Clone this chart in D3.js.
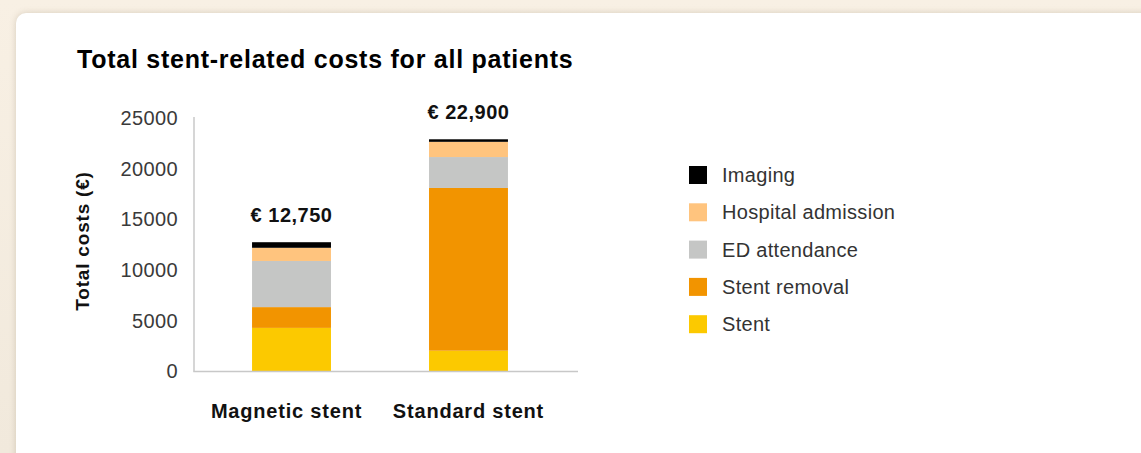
<!DOCTYPE html>
<html>
<head>
<meta charset="utf-8">
<script src="https://cdn.jsdelivr.net/npm/d3@7"></script>
<style>
  html, body { margin: 0; padding: 0; }
  body {
    width: 1141px; height: 453px; overflow: hidden;
    background: linear-gradient(#f8f0e4, #f1e9dc);
    font-family: "Liberation Sans", Arial, Helvetica, sans-serif;
  }
  #card {
    position: absolute; left: 16px; top: 13px; width: 1160px; height: 470px;
    background: #fff; border-radius: 10px;
    box-shadow: 0 0 6px rgba(120, 100, 70, 0.25);
  }
  #chart { position: absolute; left: 0; top: 0; }
</style>
</head>
<body>
<div id="card"></div>
<div id="chart"></div>
<script>
// ---- Data -------------------------------------------------------------------
const categories = ["Magnetic stent", "Standard stent"];
const seriesNames = ["Stent", "Stent removal", "ED attendance", "Hospital admission", "Imaging"];
const stent = [4300, 2050];
const stentRemoval = [2050, 16050];
const edAttendance = [4550, 3050];
const hospitalAdmission = [1300, 1500];
const imaging = [550, 250];
const totalLabels = ["€ 12,750", "€ 22,900"];
const yTicks = [0, 5000, 10000, 15000, 20000, 25000];
const legendOrder = ["Imaging", "Hospital admission", "ED attendance", "Stent removal", "Stent"];

const colors = {
  "Stent": "#fcc900",
  "Stent removal": "#f29400",
  "ED attendance": "#c5c6c5",
  "Hospital admission": "#ffc47e",
  "Imaging": "#000000"
};

// ---- Build table for stack ----------------------------------------------------
const seriesValues = [stent, stentRemoval, edAttendance, hospitalAdmission, imaging];
const rows = categories.map((c, i) => {
  const r = { category: c, label: totalLabels[i] };
  seriesNames.forEach((s, k) => { r[s] = seriesValues[k][i]; });
  return r;
});
const stacked = d3.stack().keys(seriesNames)(rows);

// ---- Draw ---------------------------------------------------------------------
const width = 1141, height = 453;
const FONT = '"Liberation Sans", Arial, Helvetica, sans-serif';
const svg = d3.select("#chart").append("svg")
  .attr("width", width).attr("height", height)
  .style("font-family", FONT);

// Title
svg.append("text")
  .attr("x", 77).attr("y", 68)
  .attr("font-size", 25).attr("font-weight", "bold").attr("fill", "#000")
  .attr("letter-spacing", 0.75)
  .text("Total stent-related costs for all patients");

const x = d3.scaleBand().domain(categories).range([194, 566])
  .paddingInner(0.554).paddingOuter(0.328);
const y = d3.scaleLinear().domain([0, 25000]).range([371.5, 118]);

// Bars
svg.append("g").selectAll("g")
  .data(stacked)
  .join("g")
  .attr("fill", d => colors[d.key])
  .selectAll("rect")
  .data(d => d)
  .join("rect")
  .attr("x", d => x(d.data.category))
  .attr("width", x.bandwidth())
  .attr("y", d => y(d[1]))
  .attr("height", d => y(d[0]) - y(d[1]));

// Total labels
svg.append("g").selectAll("text")
  .data(rows)
  .join("text")
  .attr("x", d => x(d.category) + x.bandwidth() / 2)
  .attr("y", d => y(d3.sum(seriesNames, s => d[s])) - 20)
  .attr("text-anchor", "middle")
  .attr("font-size", 20).attr("font-weight", "bold").attr("fill", "#111")
  .attr("letter-spacing", 0.5)
  .text(d => d.label);

// Axes
const yAxis = d3.axisLeft(y).tickValues(yTicks).tickSize(0).tickPadding(16)
  .tickFormat(d3.format("d"));
const gy = svg.append("g").attr("transform", "translate(194,0)").call(yAxis);
gy.select(".domain").remove();
gy.selectAll("text").attr("font-size", 20).attr("fill", "#3a3a3a")
  .attr("letter-spacing", 0.4)
  .style("font-family", FONT);

svg.append("line")
  .attr("x1", 194).attr("x2", 194).attr("y1", 117).attr("y2", y(0))
  .attr("stroke", "#c8c8c8").attr("stroke-width", 1.5);
svg.append("line")
  .attr("x1", 193.25).attr("x2", 578).attr("y1", y(0)).attr("y2", y(0))
  .attr("stroke", "#c8c8c8").attr("stroke-width", 1.5);

// X labels
svg.append("g").selectAll("text")
  .data(categories)
  .join("text")
  .attr("x", (d, i) => x(d) + x.bandwidth() / 2 - (i === 0 ? 5 : 0))
  .attr("y", 418)
  .attr("text-anchor", "middle")
  .attr("font-size", 20).attr("font-weight", "bold").attr("fill", "#111")
  .attr("letter-spacing", 0.8)
  .text(d => d);

// Y title
svg.append("text")
  .attr("transform", "translate(89,241) rotate(-90)")
  .attr("text-anchor", "middle")
  .attr("font-size", 19).attr("font-weight", "bold").attr("fill", "#111")
  .attr("letter-spacing", 0.8)
  .text("Total costs (€)");

// Legend
const legend = svg.append("g").selectAll("g")
  .data(legendOrder)
  .join("g")
  .attr("transform", (d, i) => `translate(689,${166 + i * 37.3})`);
legend.append("rect")
  .attr("width", 18).attr("height", 18)
  .attr("fill", d => colors[d]);
legend.append("text")
  .attr("x", 33).attr("y", 16)
  .attr("font-size", 20).attr("fill", "#333")
  .attr("letter-spacing", 0.3)
  .text(d => d);
</script>
</body>
</html>
